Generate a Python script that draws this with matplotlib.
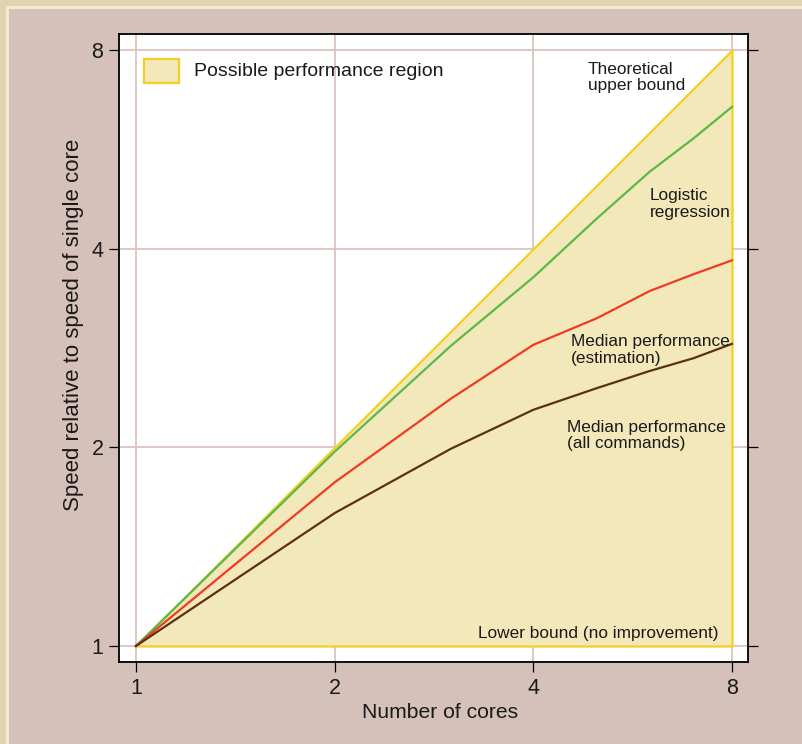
import matplotlib
matplotlib.use('Agg')
import matplotlib.pyplot as plt
from matplotlib.patches import Rectangle
from matplotlib.ticker import NullLocator, FixedLocator

# ---- data ----
cores = [1, 2, 3, 4, 5, 6, 7, 8]
upper_bound = [1, 2, 3, 4, 5, 6, 7, 8]
lower_bound = [1, 1, 1, 1, 1, 1, 1, 1]
logistic = [1.0, 1.97, 2.85, 3.62, 4.45, 5.23, 5.88, 6.56]
median_est = [1.0, 1.77, 2.37, 2.86, 3.14, 3.45, 3.66, 3.84]
median_all = [1.0, 1.59, 1.99, 2.28, 2.46, 2.61, 2.73, 2.87]
tick_values = [1, 2, 4, 8]
tick_labels = ['1', '2', '4', '8']

plt.rcParams['font.family'] = ['Liberation Sans', 'DejaVu Sans']
TXT = '#1a1a1a'

W, H = 802, 744
fig = plt.figure(figsize=(W / 100, H / 100), dpi=100)
fig.patch.set_facecolor('#dfd3b1')
fig.patches.append(Rectangle((6 / W, 0), 1, 1 - 6 / H, transform=fig.transFigure,
                             facecolor='#f2ebc6', edgecolor='none', zorder=-10))
fig.patches.append(Rectangle((9 / W, 0), 1, 1 - 9 / H, transform=fig.transFigure,
                             facecolor='#d5c1ba', edgecolor='none', zorder=-9))

ax = fig.add_axes([119 / W, 1 - 662 / H, (748 - 119) / W, (662 - 34) / H])
ax.set_zorder(1)
ax.set_facecolor('white')
ax.set_xscale('log', base=2)
ax.set_yscale('log', base=2)
ax.set_xlim(0.9424, 8.459)
ax.set_ylim(0.9457, 8.459)

ax.fill_between(cores, lower_bound, upper_bound, facecolor='#f3e8ba',
                edgecolor='#f4cf22', linewidth=1.6, zorder=2)
ax.plot(cores, logistic, color='#5cb849', lw=1.6, zorder=3)
ax.plot(cores, median_est, color='#ef3b26', lw=1.6, zorder=3)
ax.plot(cores, median_all, color='#5a3212', lw=1.6, zorder=3)

for axis in (ax.xaxis, ax.yaxis):
    axis.set_major_locator(FixedLocator(tick_values))
    axis.set_minor_locator(NullLocator())
ax.set_xticklabels(tick_labels)
ax.set_yticklabels(tick_labels)
ax.tick_params(direction='out', length=7.2, width=0.9, labelsize=15.5, pad=4,
               colors='black', labelcolor=TXT)
ax.tick_params(axis='y', right=True, labelright=False)
ax.grid(True, color='#dbc4c0', lw=1.3, zorder=0)
ax.set_axisbelow(True)
for s in ax.spines.values():
    s.set_linewidth(1.3)
    s.set_color('black')

ax.set_xlabel('Number of cores', fontsize=15.2, color=TXT, labelpad=3)
ax.xaxis.label.set_x(0.510)
ax.set_ylabel('Speed relative to speed of single core', fontsize=16, color=TXT, labelpad=5)
ax.yaxis.label.set_y(0.537)

# legend (manual)
ax.add_patch(Rectangle((0.0397, 0.922), 0.0557, 0.038, transform=ax.transAxes,
                       facecolor='#f3e8ba', edgecolor='#f4cf22', lw=1.6, zorder=5))
ax.text(0.1192, 0.941, 'Possible performance region', transform=ax.transAxes,
        fontsize=14, color=TXT, va='center', ha='left', zorder=5)

fs = 12.4
ls = 1.12
ax.text(4.84, 7.68, 'Theoretical\nupper bound', fontsize=fs, color=TXT,
        ha='left', va='top', linespacing=ls, zorder=6)
ax.text(6.01, 4.94, 'Logistic\nregression', fontsize=fs, color=TXT,
        ha='left', va='top', linespacing=ls, zorder=6)
ax.text(4.56, 2.965, 'Median performance\n(estimation)', fontsize=fs, color=TXT,
        ha='left', va='top', linespacing=ls, zorder=6)
ax.text(4.50, 2.20, 'Median performance\n(all commands)', fontsize=fs, color=TXT,
        ha='left', va='top', linespacing=ls, zorder=6)
ax.text(7.62, 1.028, 'Lower bound (no improvement)', fontsize=fs, color=TXT,
        ha='right', va='baseline', zorder=6)

fig.savefig('out.png', dpi=100, facecolor=fig.get_facecolor())
